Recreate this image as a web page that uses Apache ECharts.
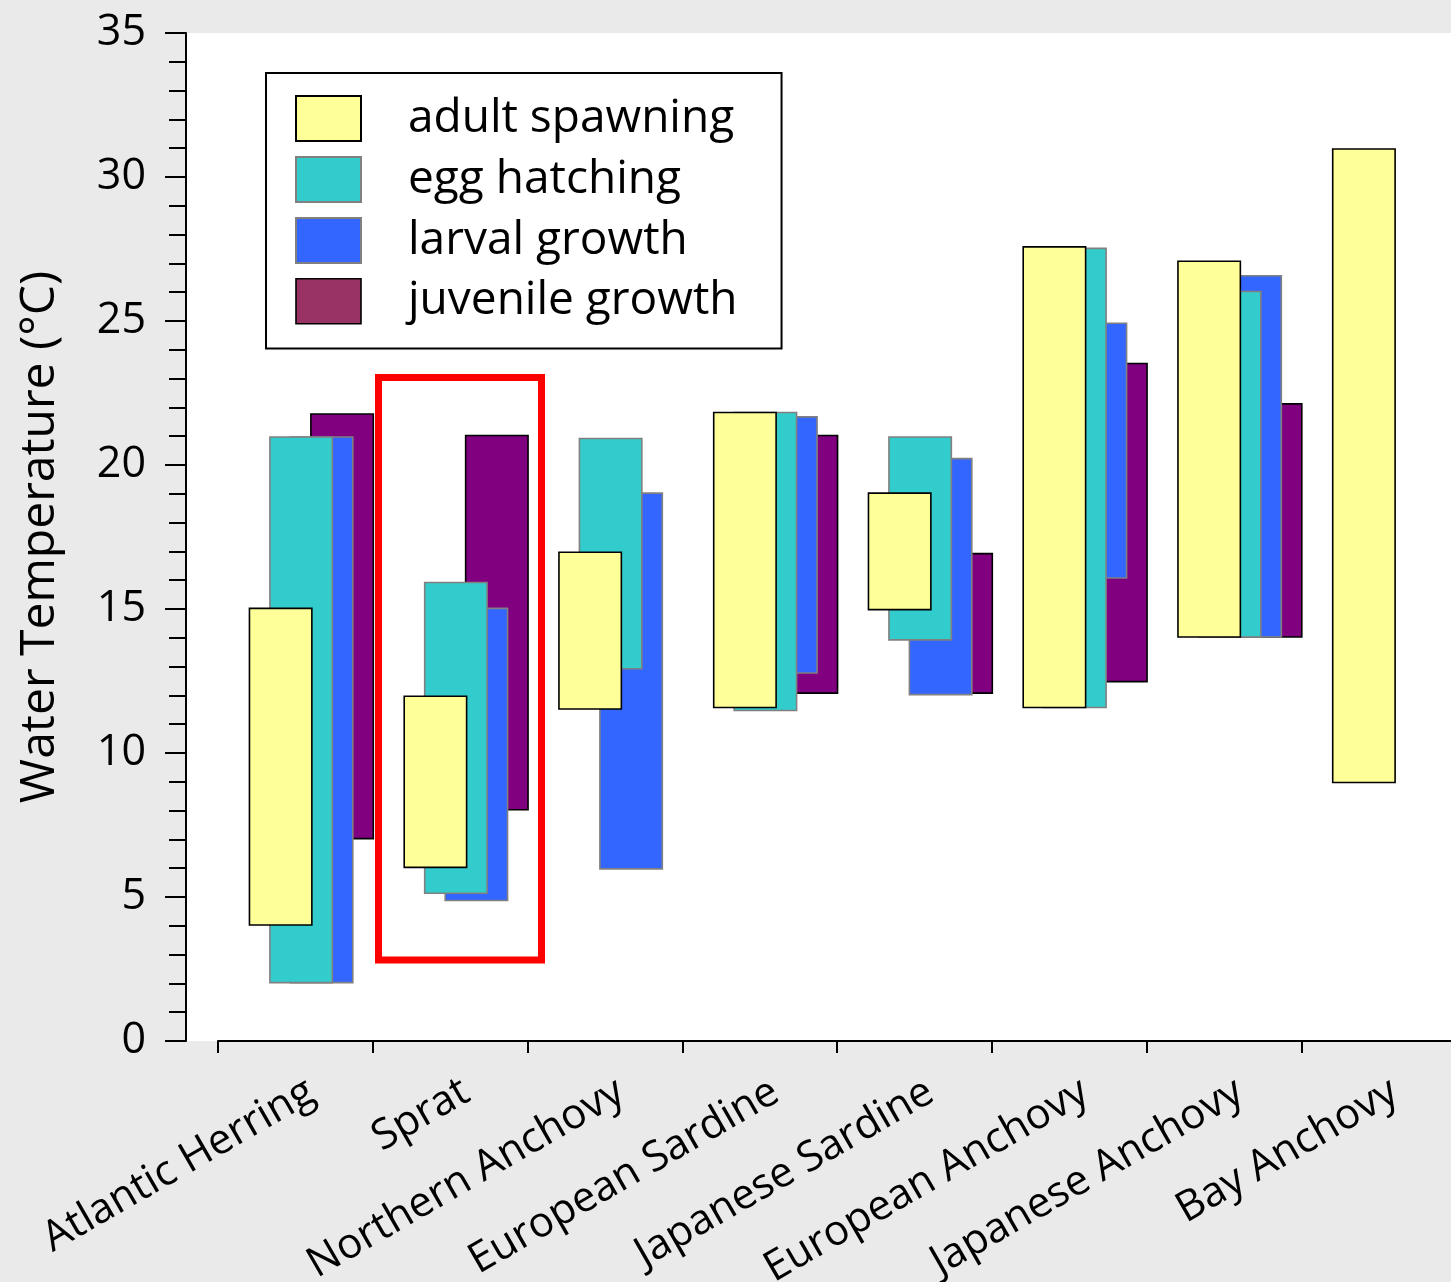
<!DOCTYPE html>
<html>
<head>
<meta charset="utf-8">
<script src="https://cdn.jsdelivr.net/npm/echarts@6/dist/echarts.min.js"></script>
<style>
    html, body { margin: 0; padding: 0; background: #eaeaea; }
    #chart { width: 1451px; height: 1282px; }
</style>
</head>
<body>
<div id="chart"></div>
<script>
// temperature ranges (°C) per species and life stage
var species = ['Atlantic Herring', 'Sprat', 'Northern Anchovy', 'European Sardine',
    'Japanese Sardine', 'European Anchovy', 'Japanese Anchovy', 'Bay Anchovy'];
var stages = ['adult spawning', 'egg hatching', 'larval growth', 'juvenile growth'];

var spawnLow   = [4, 6, 11.5, 11.55, 14.95, 11.55, 14, 8.95];
var spawnHigh  = [15.05, 12, 17, 21.85, 19.05, 27.6, 27.1, 31];
var hatchLow   = [2, 5.1, 12.9, 11.45, 13.9, 11.55, 14, null];
var hatchHigh  = [21, 15.95, 20.95, 21.85, 21, 27.55, 26.05, null];
var larvalLow  = [2, 4.85, 5.95, 12.75, 12, 16.05, 14, null];
var larvalHigh = [21, 15.05, 19.05, 21.7, 20.25, 24.95, 26.6, null];
var juvLow     = [7, 8, null, 12.05, 12.05, 12.45, 14, null];
var juvHigh    = [21.8, 21.05, null, 21.05, 16.95, 23.55, 22.15, null];

var yTicks = [0, 5, 10, 15, 20, 25, 30, 35];

var fills = ['#ffff99', '#33cccc', '#3366ff', '#800080'];
var edges = ['#000000', '#808080', '#808080', '#000000'];
var lows = [spawnLow, hatchLow, larvalLow, juvLow];
var highs = [spawnHigh, hatchHigh, larvalHigh, juvHigh];
var font = '"Open Sans", "Noto Sans", sans-serif';

var chart = echarts.init(document.getElementById('chart'));

var series = [];
stages.forEach(function (name, i) {
    // invisible base up to the lower bound
    series.push({
        name: name + ' base',
        type: 'bar',
        stack: 'st' + i,
        xAxisIndex: 2,
        yAxisIndex: 2,
        barWidth: 64,
        barGap: '-68%',
        silent: true,
        itemStyle: { color: 'transparent' },
        emphasis: { disabled: true },
        data: lows[i]
    });
    // visible range
    series.push({
        name: name,
        type: 'bar',
        stack: 'st' + i,
        xAxisIndex: 2,
        yAxisIndex: 2,
        barWidth: 64,
        barGap: '-68%',
        z: 5 - i,
        itemStyle: { color: fills[i], borderColor: edges[i], borderWidth: 1.6 },
        emphasis: { disabled: true },
        data: highs[i].map(function (v, k) {
            return v == null ? null : +(v - lows[i][k]).toFixed(2);
        })
    });
});

var legendData = stages.map(function (name, i) {
    var item = { name: name };
    if (i === 3) {
        item.itemStyle = { color: '#993366', borderColor: '#000', borderWidth: 1.6 };
    }
    return item;
});

var option = {
    backgroundColor: '#eaeaea',
    animation: false,
    textStyle: { fontFamily: font },
    graphic: [
        {
            type: 'rect',
            z: -10,
            shape: { x: 186, y: 33, width: 1265, height: 1008 },
            style: { fill: '#ffffff' }
        },
        {
            type: 'rect',
            z: 100,
            shape: { x: 378.5, y: 377.5, width: 163, height: 582.5 },
            style: { fill: 'none', stroke: '#ff0000', lineWidth: 7 }
        }
    ],
    legend: {
        orient: 'vertical',
        left: 266,
        top: 73,
        padding: [22, 44, 24, 29],
        itemGap: 14,
        itemWidth: 65,
        itemHeight: 45,
        icon: 'rect',
        selectedMode: false,
        backgroundColor: '#ffffff',
        borderColor: '#000000',
        borderWidth: 2,
        borderRadius: 0,
        textStyle: {
            fontFamily: font,
            fontSize: 46,
            lineHeight: 46,
            color: '#000',
            padding: [0, 0, 0, 42]
        },
        data: legendData
    },
    grid: [
        { left: 218, width: 1238, top: 33, bottom: 241, containLabel: false, outerBoundsMode: 'none' },
        { left: 234, width: 1238, top: 33, bottom: 241, containLabel: false, outerBoundsMode: 'none' }
    ],
    xAxis: [
        {
            type: 'category',
            gridIndex: 0,
            data: species,
            axisLine: { lineStyle: { color: '#000', width: 2 } },
            axisTick: { show: true, length: 12, interval: 0, lineStyle: { color: '#000', width: 2 } },
            axisLabel: { show: false },
            splitLine: { show: false }
        },
        {
            type: 'category',
            gridIndex: 0,
            data: species,
            axisLine: { show: false },
            axisTick: { show: true, inside: true, length: 12, interval: 0, lineStyle: { color: '#000', width: 2 } },
            axisLabel: { show: false },
            splitLine: { show: false }
        },
        {
            type: 'category',
            gridIndex: 1,
            data: species,
            axisLine: { show: false },
            axisTick: { show: false },
            axisLabel: {
                interval: 0,
                rotate: 30,
                margin: 48,
                fontFamily: font,
                fontSize: 42,
                color: '#000'
            },
            splitLine: { show: false }
        }
    ],
    yAxis: [
        {
            type: 'value',
            gridIndex: 0,
            min: yTicks[0],
            max: yTicks[yTicks.length - 1],
            interval: 5,
            offset: 32,
            name: 'Water Temperature (°C)',
            nameLocation: 'middle',
            nameGap: 122,
            nameTextStyle: { fontFamily: font, fontSize: 48, color: '#000' },
            axisLine: { show: true, lineStyle: { color: '#000', width: 2 } },
            axisTick: { show: true, length: 21, lineStyle: { color: '#000', width: 2 } },
            minorTick: { show: true, splitNumber: 5, length: 17, lineStyle: { color: '#000', width: 2 } },
            axisLabel: { margin: 40, fontFamily: font, fontSize: 43, color: '#000' },
            splitLine: { show: false }
        },
        {
            type: 'value',
            gridIndex: 0,
            min: yTicks[0],
            max: yTicks[yTicks.length - 1],
            interval: 5,
            offset: 32,
            axisLine: { show: false },
            axisTick: { show: true, inside: true, length: 21, lineStyle: { color: '#000', width: 2 } },
            axisLabel: { show: false },
            splitLine: { show: false }
        },
        {
            type: 'value',
            gridIndex: 1,
            min: yTicks[0],
            max: yTicks[yTicks.length - 1],
            show: false
        }
    ],
    series: series
};

chart.setOption(option);
window.addEventListener('resize', function () {
    chart.resize();
});
</script>
</body>
</html>
